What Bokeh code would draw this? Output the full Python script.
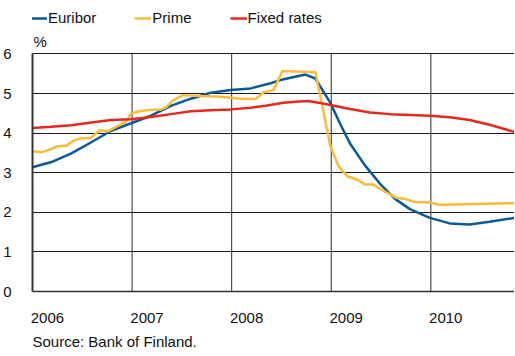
from bokeh.plotting import figure
from bokeh.models import (Range1d, FixedTicker, Legend, LegendItem, Label, Title)
from bokeh.embed import file_html
from bokeh.resources import INLINE

years = [2006, 2007, 2008, 2009, 2010]
year_labels = ["2006", "2007", "2008", "2009", "2010"]
y_ticks = [0, 1, 2, 3, 4, 5, 6]

euribor_x = [2006.0, 2006.19, 2006.39, 2006.59, 2006.79, 2006.99, 2007.19, 2007.39, 2007.59, 2007.79,
             2007.99, 2008.19, 2008.39, 2008.49, 2008.74, 2008.84, 2008.99, 2009.09, 2009.19, 2009.34,
             2009.49, 2009.64, 2009.79, 2009.99, 2010.19, 2010.39, 2010.59, 2010.84]
euribor_y = [3.14, 3.27, 3.49, 3.77, 4.06, 4.25, 4.44, 4.69, 4.87, 5.02,
             5.09, 5.13, 5.26, 5.34, 5.48, 5.38, 4.77, 4.23, 3.73, 3.18,
             2.72, 2.34, 2.08, 1.86, 1.72, 1.69, 1.76, 1.86]

prime_x = [2006.0, 2006.09, 2006.17, 2006.24, 2006.34, 2006.41, 2006.49, 2006.59, 2006.67, 2006.76,
           2006.84, 2006.94, 2006.99, 2007.09, 2007.19, 2007.29, 2007.34, 2007.42, 2007.51, 2007.69,
           2007.89, 2008.09, 2008.24, 2008.32, 2008.42, 2008.51, 2008.84, 2008.91, 2008.99, 2009.07,
           2009.16, 2009.26, 2009.34, 2009.42, 2009.52, 2009.66, 2009.74, 2009.84, 2009.99, 2010.09,
           2010.84]
prime_y = [3.54, 3.52, 3.58, 3.66, 3.68, 3.81, 3.87, 3.88, 4.07, 4.05,
           4.16, 4.29, 4.50, 4.56, 4.59, 4.60, 4.65, 4.84, 4.96, 4.94,
           4.92, 4.87, 4.86, 5.03, 5.09, 5.57, 5.54, 4.69, 3.68, 3.18,
           2.91, 2.83, 2.70, 2.70, 2.55, 2.36, 2.34, 2.26, 2.25, 2.19,
           2.23]

fixed_x = [2006.0, 2006.19, 2006.39, 2006.59, 2006.79, 2006.99, 2007.19, 2007.39, 2007.59, 2007.79,
           2007.99, 2008.19, 2008.34, 2008.52, 2008.64, 2008.77, 2008.87, 2008.99, 2009.19, 2009.39,
           2009.59, 2009.79, 2009.99, 2010.19, 2010.39, 2010.59, 2010.84]
fixed_y = [4.13, 4.16, 4.20, 4.27, 4.33, 4.35, 4.41, 4.48, 4.55, 4.58,
           4.60, 4.64, 4.69, 4.77, 4.79, 4.81, 4.77, 4.71, 4.61, 4.52,
           4.48, 4.46, 4.44, 4.40, 4.33, 4.21, 4.03]

FONT = "Liberation Sans"
FS = "15px"
Y_MAX = y_ticks[-1]

p = figure(width=514, height=355, x_range=Range1d(2006, 2010.84), y_range=Range1d(0, 7.35),
           output_backend="svg", toolbar_location=None,
           min_border_left=26, min_border_right=0, min_border_top=0, min_border_bottom=10)
p.outline_line_color = None
p.background_fill_color = "white"

# grids
p.xgrid.visible = False
p.ygrid.ticker = FixedTicker(ticks=y_ticks)
p.ygrid.grid_line_color = "#1a1a1a"
p.ygrid.grid_line_width = 1
p.segment(x0=years[1:], y0=[0] * (len(years) - 1), x1=years[1:], y1=[Y_MAX] * (len(years) - 1),
          line_color="#2a2a2a", line_width=1)

# axes
p.yaxis.ticker = FixedTicker(ticks=y_ticks)
p.yaxis.bounds = (0, Y_MAX)
p.yaxis.major_tick_line_color = None
p.yaxis.minor_tick_line_color = None
p.yaxis.axis_line_color = "#333333"
p.yaxis.axis_line_width = 2
p.yaxis.major_label_text_font = FONT
p.yaxis.major_label_text_font_size = FS
p.yaxis.major_label_text_color = "#111111"
p.yaxis.major_label_standoff = 15

label_offset = 0.15
p.xaxis.ticker = FixedTicker(ticks=[y + label_offset for y in years])
p.xaxis.major_label_overrides = {y + label_offset: lab for y, lab in zip(years, year_labels)}
p.xaxis.major_tick_line_color = None
p.xaxis.minor_tick_line_color = None
p.xaxis.axis_line_color = "#333333"
p.xaxis.axis_line_width = 1.5
p.xaxis.major_label_text_font = FONT
p.xaxis.major_label_text_font_size = FS
p.xaxis.major_label_text_color = "#111111"
p.xaxis.major_label_standoff = 15

# lines
r_e = p.line(euribor_x, euribor_y, line_color="#0a5a96", line_width=2.5)
r_p = p.line(prime_x, prime_y, line_color="#fbbb3a", line_width=2.5)
r_f = p.line(fixed_x, fixed_y, line_color="#e6281f", line_width=2.5)

legend = Legend(items=[LegendItem(label="Euribor", renderers=[r_e]),
                       LegendItem(label="Prime", renderers=[r_p]),
                       LegendItem(label="Fixed rates", renderers=[r_f])],
                orientation="horizontal", location=(-2, 265),
                label_text_font=FONT, label_text_font_size=FS, label_text_color="#111111",
                glyph_width=17, glyph_height=16, label_standoff=1, spacing=38,
                padding=0, margin=0, border_line_alpha=0, background_fill_alpha=0,
                label_height=16)
p.add_layout(legend)

pct = Label(x=2006, y=Y_MAX, text="%", x_offset=1, y_offset=4, text_baseline="bottom", text_align="left",
            text_font=FONT, text_font_size=FS, text_color="#111111")
p.add_layout(pct)

src = Title(text="Source: Bank of Finland.", text_font=FONT, text_font_size=FS,
            text_font_style="normal", text_color="#111111", align="left", standoff=11)
p.add_layout(src, "below")

open("out.html", "w").write(file_html(p, INLINE))
